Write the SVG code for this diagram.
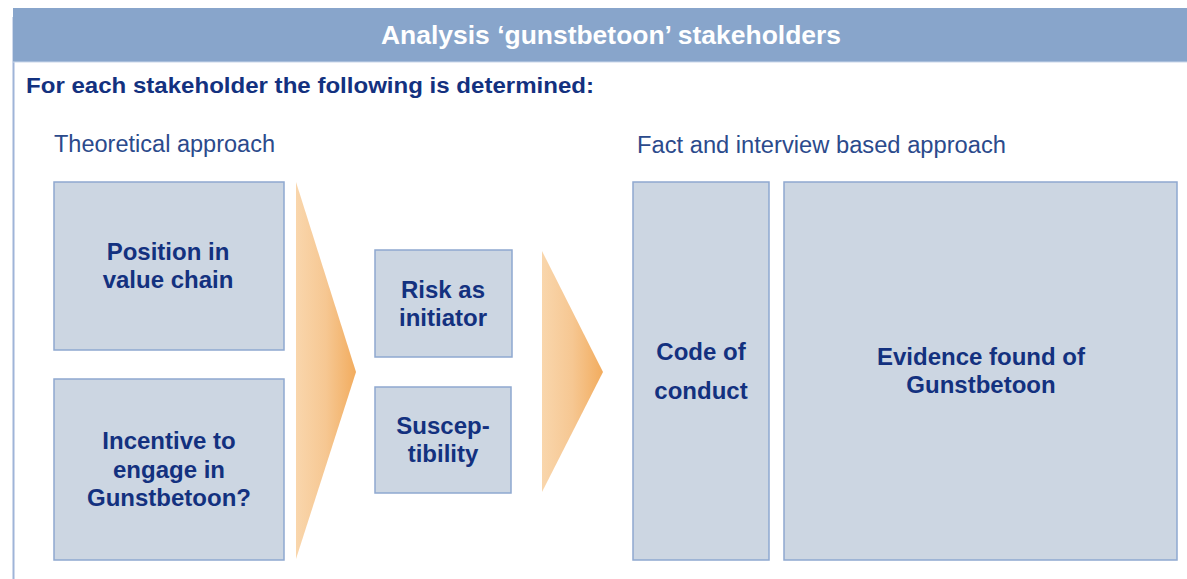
<svg xmlns="http://www.w3.org/2000/svg" width="1187" height="579" viewBox="0 0 1187 579">
<style>
.box{fill:#CCD6E2;stroke:#8EA8D0;stroke-width:1.5}
.lbl{font-family:"Liberation Sans",Arial,sans-serif;font-weight:bold;font-size:24px;fill:#13317F;text-anchor:middle}
.sub{font-family:"Liberation Sans",Arial,sans-serif;font-size:23px;fill:#2B4A8C}
</style>
<defs>
<linearGradient id="og" x1="0" y1="0" x2="1" y2="0">
<stop offset="0" stop-color="#F9D6AC"/>
<stop offset="0.5" stop-color="#F6C792"/>
<stop offset="1" stop-color="#F2AC5E"/>
</linearGradient>
</defs>
<rect width="1187" height="579" fill="#FFFFFF"/>
<line x1="13.5" y1="17" x2="13.5" y2="579" stroke="#9FB4D8" stroke-width="2"/>
<rect x="13" y="8" width="1174" height="54" fill="#88A5CB"/>
<line x1="13" y1="62" x2="1187" y2="62" stroke="#C9D6EA" stroke-width="1"/>
<text x="381" y="44" textLength="460" lengthAdjust="spacingAndGlyphs" font-family="Liberation Sans,Arial,sans-serif" font-weight="bold" font-size="25" fill="#FFFFFF">Analysis ‘gunstbetoon’ stakeholders</text>
<text x="26" y="93" textLength="568" lengthAdjust="spacingAndGlyphs" font-family="Liberation Sans,Arial,sans-serif" font-weight="bold" font-size="22" fill="#13317F">For each stakeholder the following is determined:</text>
<text class="sub" x="54" y="152" textLength="221" lengthAdjust="spacingAndGlyphs">Theoretical approach</text>
<text class="sub" x="637" y="153" textLength="369" lengthAdjust="spacingAndGlyphs">Fact and interview based approach</text>
<g id="connectors">
<polygon points="296,182 356,372 296,559" fill="url(#og)"/>
<polygon points="542,251 603,372 542,492" fill="url(#og)"/>
</g>
<g id="position">
<rect class="box" x="54" y="182" width="230" height="168"/>
<text class="lbl" x="168" y="260">Position in</text>
<text class="lbl" x="168" y="288">value chain</text>
</g>
<g id="incentive">
<rect class="box" x="54" y="379" width="230" height="181"/>
<text class="lbl" x="169" y="449">Incentive to</text>
<text class="lbl" x="169" y="478">engage in</text>
<text class="lbl" x="169" y="506">Gunstbetoon?</text>
</g>
<g id="risk">
<rect class="box" x="375" y="250" width="137" height="107"/>
<text class="lbl" x="443" y="298">Risk as</text>
<text class="lbl" x="443" y="326">initiator</text>
</g>
<g id="susceptibility">
<rect class="box" x="375" y="387" width="136" height="106"/>
<text class="lbl" x="443" y="434">Suscep-</text>
<text class="lbl" x="443" y="462">tibility</text>
</g>
<g id="code">
<rect class="box" x="633" y="182" width="136" height="378"/>
<text class="lbl" x="701" y="360">Code of</text>
<text class="lbl" x="701" y="399">conduct</text>
</g>
<g id="evidence">
<rect class="box" x="784" y="182" width="393" height="378"/>
<text class="lbl" x="981" y="365">Evidence found of</text>
<text class="lbl" x="981" y="393">Gunstbetoon</text>
</g>
</svg>
